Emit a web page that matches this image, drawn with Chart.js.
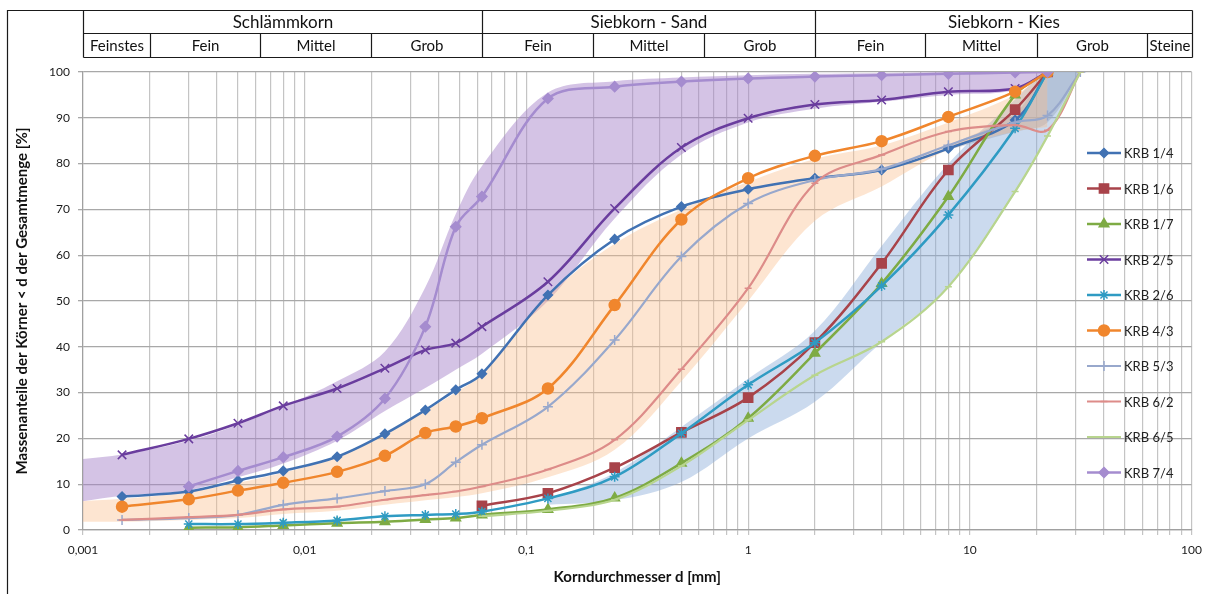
<!DOCTYPE html>
<html lang="de">
<head>
<meta charset="utf-8">
<title>Körnungslinien KRB</title>
<script src="https://cdn.jsdelivr.net/npm/chart.js"></script>
<style>
  html, body { margin: 0; padding: 0; background: #fff; }
  #wrap { position: relative; width: 1210px; height: 594px; }
</style>
</head>
<body>
<div id="wrap"><canvas id="kornChart"></canvas></div>
<script>
// ===================================
// Körnungslinien KRB-Proben (Sieb- und Schlämmanalyse)
// ===================================

// Korndurchmesser der Messpunkte [mm]
const korn = [0.0015, 0.003, 0.005, 0.008, 0.014, 0.023, 0.035, 0.048, 0.063, 0.125, 0.25, 0.5, 1, 2, 4, 8, 16, 22.4, 31.5];

// Massenanteile der Körner < d [%] (null = kein Messwert)
const krb14 = [7.3, 8.4, 10.8, 12.9, 16.0, 21.0, 26.2, 30.6, 34.1, 51.3, 63.5, 70.6, 74.4, 76.8, 78.6, 83.3, 89.5, 100, null];
const krb16 = [null, null, null, null, null, null, null, null, 5.3, 8.0, 13.6, 21.3, 28.9, 40.9, 58.2, 78.6, 91.8, 100, null];
const krb17 = [null, 0.5, 0.6, 1.0, 1.5, 1.8, 2.3, 2.6, 3.3, 4.5, 7.0, 14.6, 24.4, 38.6, 53.8, 72.8, 95.0, 100, null];
const krb25 = [16.4, 19.9, 23.3, 27.1, 30.9, 35.3, 39.3, 40.8, 44.4, 54.2, 70.2, 83.5, 89.9, 92.9, 93.9, 95.7, 96.4, 100, null];
const krb26 = [null, 1.3, 1.3, 1.6, 2.1, 3.0, 3.3, 3.5, 4.0, 6.9, 11.6, 21.1, 31.7, 40.9, 53.3, 68.8, 87.7, 100, null];
const krb43 = [5.1, 6.7, 8.6, 10.3, 12.7, 16.2, 21.2, 22.6, 24.4, 30.9, 49.1, 67.8, 76.8, 81.7, 84.9, 90.2, 95.7, 100, null];
const krb53 = [2.2, 2.6, 3.3, 5.5, 6.9, 8.5, 10.0, 14.8, 18.6, 26.9, 41.5, 59.7, 71.3, 76.4, 78.8, 84.0, 89.0, 90.5, 100];
const krb62 = [2.2, 2.8, 3.3, 4.5, 5.1, 6.6, 7.6, 8.4, 9.5, 13.2, 19.7, 35.1, 52.8, 75.7, 81.9, 87.0, 88.4, 87.3, 100];
const krb65 = [null, null, null, null, null, null, null, null, 3.0, 4.2, 6.6, 14.0, 24.0, 33.8, 41.1, 53.1, 73.9, 86.0, 100];
const krb74 = [null, 9.5, 12.9, 15.9, 20.4, 28.7, 44.4, 66.2, 72.8, 94.2, 96.8, 97.9, 98.6, 99.0, 99.3, 99.6, 99.9, 100, null];

const seriesNames = ['KRB 1/4', 'KRB 1/6', 'KRB 1/7', 'KRB 2/5', 'KRB 2/6', 'KRB 4/3', 'KRB 5/3', 'KRB 6/2', 'KRB 6/5', 'KRB 7/4'];
const seriesValues = [krb14, krb16, krb17, krb25, krb26, krb43, krb53, krb62, krb65, krb74];

// Streubereiche (Ober- und Untergrenze)
const bandKorn = [0.001, 0.0015, 0.003, 0.005, 0.008, 0.014, 0.023, 0.035, 0.048, 0.063, 0.125, 0.25, 0.5, 1, 2, 4, 8, 16, 22.4, 31.5];
const lilaOben  = [15.5, 16.5, 19.5, 23, 27, 32.5, 39, 53, 69, 79.5, 95.5, 98, 98.8, 99.3, 99.6, 99.8, 100, 100, 100, null];
const lilaUnten = [6.3, 7.5, 8.7, 11.5, 14.5, 19.5, 26, 31, 35, 38.5, 50, 68, 82, 89, 92, 93.5, 95, 96, 100, null];
const orangeOben  = [6.3, 6.8, 8.3, 10.3, 12.5, 16, 21, 26, 30, 34, 51, 62.5, 70, 76, 81, 84, 89, 95, 100, null];
const orangeUnten = [1.8, 1.8, 2.2, 2.6, 3.5, 4.2, 5.5, 6.5, 7.2, 8.0, 11.5, 17.5, 32.5, 50, 67.5, 75, 83, 87, 88, null];
const blauOben  = [null, null, null, null, null, null, null, null, null, null, 6.5, 12.5, 22.5, 33, 43.5, 62, 80, 94, 100, 100];
const blauUnten = [null, null, null, null, null, null, null, null, null, null, 5.5, 6.5, 10.5, 20, 28, 41, 53, 73.5, 86, 100];
const grauOben  = [null, null, null, null, null, null, null, null, null, null, null, null, null, null, null, null, 84, 91, 100, 100];
const grauUnten = [null, null, null, null, null, null, null, null, null, null, null, null, null, null, null, null, 83, 87, 89, 100];

// Achsen
const xDekaden = [0.001, 0.01, 0.1, 1, 10];
const xDekadenText = ['0,001', '0,01', '0,1', '1', '10', '100'];
const yMin = 0, yMax = 100, yStep = 10;

// Bodenarten nach DIN 4022
const gruppenGrenzen = [0.001, 0.063, 2, 100];
const gruppenText = ['Schlämmkorn', 'Siebkorn - Sand', 'Siebkorn - Kies'];
const klassenGrenzen = [0.001, 0.002, 0.0063, 0.02, 0.063, 0.2, 0.63, 2, 6.3, 20, 63, 100];
const klassenText = ['Feinstes', 'Fein', 'Mittel', 'Grob', 'Fein', 'Mittel', 'Grob', 'Fein', 'Mittel', 'Grob', 'Steine'];

// Stil je Reihe
const seriesStyle = [
    { color: '#4172b3', marker: 'rectRot',  radius: 4.5, width: 2.5 },
    { color: '#a8434a', marker: 'rect',     radius: 6.5, width: 2.5 },
    { color: '#7eab44', marker: 'triangle', radius: 5.5, width: 2.5 },
    { color: '#6a3d9e', marker: 'crossRot', radius: 6,   width: 2.5 },
    { color: '#2f9bc3', marker: 'star',     radius: 5,   width: 2.5 },
    { color: '#f0862d', marker: 'circle',   radius: 5.5, width: 2.5 },
    { color: '#98a8cc', marker: 'cross',    radius: 5,   width: 2.2 },
    { color: '#dd8c89', marker: 'line',     radius: 3.5, width: 2.2 },
    { color: '#b8d58e', marker: 'line',     radius: 3.5, width: 2.2 },
    { color: '#a58ccf', marker: 'rectRot',  radius: 5,   width: 2.5 }
];

const FONT = 'Lato, "Open Sans", sans-serif';

// Punkte ohne Messwert weglassen
function toPoints(xs, ys) {
    const pts = [];
    xs.forEach((x, i) => {
        if (ys[i] !== null) pts.push({ x: x, y: ys[i] });
    });
    return pts;
}

// Teilstriche 1..9 je Dekade
const xTickValues = [];
const xTickText = [];
xDekaden.forEach((d, k) => {
    for (let m = 1; m <= 9; m++) {
        xTickValues.push(parseFloat((d * m).toPrecision(6)));
        xTickText.push(m === 1 ? xDekadenText[k] : '');
    }
});
xTickValues.push(100);
xTickText.push(xDekadenText[xDekadenText.length - 1]);

// Streubereich als zwei Linien mit Füllung dazwischen
function bandDatasets(oben, unten, fillColor) {
    const base = {
        type: 'line',
        borderWidth: 0,
        pointRadius: 0,
        tension: 0.35,
        order: 30
    };
    return [
        Object.assign({}, base, { label: 'band', data: toPoints(bandKorn, oben), fill: '+1', backgroundColor: fillColor }),
        Object.assign({}, base, { label: 'band', data: toPoints(bandKorn, unten), fill: false })
    ];
}

const datasets = [];
datasets.push(...bandDatasets(orangeOben, orangeUnten, 'rgba(250, 190, 140, 0.40)'));
datasets.push(...bandDatasets(blauOben, blauUnten, 'rgba(140, 172, 218, 0.45)'));
datasets.push(...bandDatasets(lilaOben, lilaUnten, 'rgba(165, 130, 200, 0.48)'));
datasets.push(...bandDatasets(grauOben, grauUnten, 'rgba(165, 165, 170, 0.45)'));

seriesNames.forEach((name, i) => {
    const st = seriesStyle[i];
    datasets.push({
        type: 'line',
        label: name,
        data: toPoints(korn, seriesValues[i]),
        borderColor: st.color,
        backgroundColor: st.color,
        borderWidth: st.width,
        pointStyle: st.marker,
        pointRadius: st.radius,
        pointBackgroundColor: st.color,
        pointBorderColor: st.color,
        pointBorderWidth: 1.5,
        tension: 0.35,
        fill: false,
        order: 10 - i
    });
});

// Kopftabelle mit Bodenarten und Rahmen
const headerPlugin = {
    id: 'kornHeader',
    afterDraw(chart) {
        const ctx = chart.ctx;
        const xs = chart.scales.x;
        const px = v => Math.round(xs.getPixelForValue(v)) + 0.5;
        const top = 10.5, mid = 33.5, bot = 57.5;
        ctx.save();
        ctx.strokeStyle = '#1a1a1a';
        ctx.lineWidth = 1.2;

        // Rahmen links und oben
        ctx.beginPath();
        ctx.moveTo(7.5, chart.height);
        ctx.lineTo(7.5, top);
        ctx.lineTo(px(100), top);
        ctx.stroke();

        // Tabellenlinien
        ctx.beginPath();
        ctx.moveTo(px(0.001), mid); ctx.lineTo(px(100), mid);
        ctx.moveTo(px(0.001), bot); ctx.lineTo(px(100), bot);
        gruppenGrenzen.forEach(g => { ctx.moveTo(px(g), top); ctx.lineTo(px(g), bot); });
        klassenGrenzen.forEach(g => { ctx.moveTo(px(g), mid); ctx.lineTo(px(g), bot); });
        ctx.stroke();

        ctx.fillStyle = '#111';
        ctx.textAlign = 'center';
        ctx.textBaseline = 'middle';
        ctx.font = '17px ' + FONT;
        gruppenText.forEach((t, i) => {
            ctx.fillText(t, (px(gruppenGrenzen[i]) + px(gruppenGrenzen[i + 1])) / 2, (top + mid) / 2 + 1);
        });
        ctx.font = '15px ' + FONT;
        klassenText.forEach((t, i) => {
            ctx.fillText(t, (px(klassenGrenzen[i]) + px(klassenGrenzen[i + 1])) / 2, (mid + bot) / 2 + 1);
        });
        ctx.restore();
    }
};

// Legende innerhalb der Zeichenfläche
const legendPlugin = {
    id: 'kornLegend',
    afterDatasetsDraw(chart) {
        const ctx = chart.ctx;
        ctx.save();
        seriesNames.forEach((name, i) => {
            const st = seriesStyle[i];
            const y = 153 + i * 35.5;
            ctx.strokeStyle = st.color;
            ctx.fillStyle = st.color;
            ctx.lineWidth = st.width;
            ctx.beginPath();
            ctx.moveTo(1087, y);
            ctx.lineTo(1121, y);
            ctx.stroke();
            if (Chart.helpers && Chart.helpers.drawPoint) {
                ctx.lineWidth = 1.5;
                Chart.helpers.drawPoint(ctx, { pointStyle: st.marker, radius: st.radius, borderWidth: 1.5, rotation: 0 }, 1104, y);
            }
            ctx.fillStyle = '#222';
            ctx.font = '13px ' + FONT;
            ctx.textAlign = 'left';
            ctx.textBaseline = 'middle';
            ctx.fillText(name, 1124, y + 1);
        });
        ctx.restore();
    }
};

const kornChart = new Chart(document.getElementById('kornChart'), {
    type: 'line',
    data: { datasets: datasets },
    options: {
        responsive: true,
        maintainAspectRatio: false,
        animation: false,
        layout: { padding: { top: 72, right: 17, bottom: 0, left: 0 } },
        plugins: {
            legend: { display: false },
            tooltip: { enabled: false }
        },
        scales: {
            x: {
                type: 'logarithmic',
                min: 0.001,
                max: 100,
                afterBuildTicks: scale => { scale.ticks = xTickValues.map(v => ({ value: v })); },
                afterFit: scale => { scale.height = 64; },
                ticks: {
                    autoSkip: false,
                    maxRotation: 0,
                    padding: 8,
                    color: '#1a1a1a',
                    font: { family: FONT, size: 12 },
                    callback: (value, index) => xTickText[index]
                },
                grid: { color: '#c4c4c4', lineWidth: 1.2, tickLength: 5 },
                border: { color: '#a0a0a0', width: 1.2 },
                title: {
                    display: true,
                    text: 'Korndurchmesser d [mm]',
                    color: '#111',
                    font: { family: FONT, size: 15, weight: 'bold' },
                    padding: { top: 0, bottom: 8 }
                }
            },
            y: {
                min: yMin,
                max: yMax,
                afterFit: scale => { scale.width = 83; },
                ticks: {
                    stepSize: yStep,
                    padding: 8,
                    color: '#1a1a1a',
                    font: { family: FONT, size: 12 }
                },
                grid: { color: '#a8a8a8', lineWidth: 1.3, tickLength: 5 },
                border: { color: '#a0a0a0', width: 1.2 },
                title: {
                    display: true,
                    text: 'Massenanteile der Körner < d der Gesamtmenge [%]',
                    color: '#111',
                    font: { family: FONT, size: 15, weight: 'bold' },
                    padding: { top: 13, bottom: 0 }
                }
            }
        }
    },
    plugins: [headerPlugin, legendPlugin]
});
</script>
</body>
</html>
